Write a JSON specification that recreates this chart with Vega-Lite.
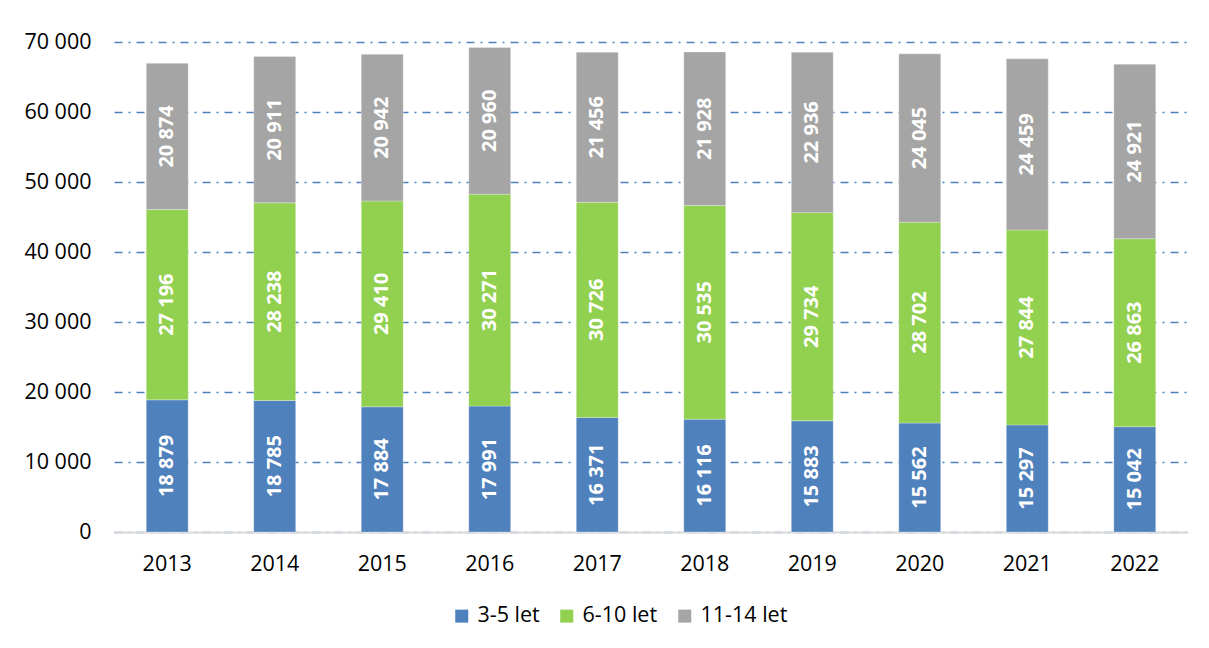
{
  "$schema": "https://vega.github.io/schema/vega-lite/v6.json",
  "autosize": {"type": "none"},
  "width": 1074,
  "height": 490,
  "padding": {"left": 114, "top": 42, "right": 21, "bottom": 116},
  "background": "white",
  "config": {
    "locale": {"number": {"decimal": ",", "thousands": " ", "grouping": [3], "currency": ["", " Kč"]}},
    "font": "Open Sans",
    "view": {"stroke": null}
  },
  "data": {
    "values": [
      {"rok": "2013", "skupina": "3-5 let", "poradi": 1, "pocet": 18879},
      {"rok": "2013", "skupina": "6-10 let", "poradi": 2, "pocet": 27196},
      {"rok": "2013", "skupina": "11-14 let", "poradi": 3, "pocet": 20874},
      {"rok": "2014", "skupina": "3-5 let", "poradi": 1, "pocet": 18785},
      {"rok": "2014", "skupina": "6-10 let", "poradi": 2, "pocet": 28238},
      {"rok": "2014", "skupina": "11-14 let", "poradi": 3, "pocet": 20911},
      {"rok": "2015", "skupina": "3-5 let", "poradi": 1, "pocet": 17884},
      {"rok": "2015", "skupina": "6-10 let", "poradi": 2, "pocet": 29410},
      {"rok": "2015", "skupina": "11-14 let", "poradi": 3, "pocet": 20942},
      {"rok": "2016", "skupina": "3-5 let", "poradi": 1, "pocet": 17991},
      {"rok": "2016", "skupina": "6-10 let", "poradi": 2, "pocet": 30271},
      {"rok": "2016", "skupina": "11-14 let", "poradi": 3, "pocet": 20960},
      {"rok": "2017", "skupina": "3-5 let", "poradi": 1, "pocet": 16371},
      {"rok": "2017", "skupina": "6-10 let", "poradi": 2, "pocet": 30726},
      {"rok": "2017", "skupina": "11-14 let", "poradi": 3, "pocet": 21456},
      {"rok": "2018", "skupina": "3-5 let", "poradi": 1, "pocet": 16116},
      {"rok": "2018", "skupina": "6-10 let", "poradi": 2, "pocet": 30535},
      {"rok": "2018", "skupina": "11-14 let", "poradi": 3, "pocet": 21928},
      {"rok": "2019", "skupina": "3-5 let", "poradi": 1, "pocet": 15883},
      {"rok": "2019", "skupina": "6-10 let", "poradi": 2, "pocet": 29734},
      {"rok": "2019", "skupina": "11-14 let", "poradi": 3, "pocet": 22936},
      {"rok": "2020", "skupina": "3-5 let", "poradi": 1, "pocet": 15562},
      {"rok": "2020", "skupina": "6-10 let", "poradi": 2, "pocet": 28702},
      {"rok": "2020", "skupina": "11-14 let", "poradi": 3, "pocet": 24045},
      {"rok": "2021", "skupina": "3-5 let", "poradi": 1, "pocet": 15297},
      {"rok": "2021", "skupina": "6-10 let", "poradi": 2, "pocet": 27844},
      {"rok": "2021", "skupina": "11-14 let", "poradi": 3, "pocet": 24459},
      {"rok": "2022", "skupina": "3-5 let", "poradi": 1, "pocet": 15042},
      {"rok": "2022", "skupina": "6-10 let", "poradi": 2, "pocet": 26863},
      {"rok": "2022", "skupina": "11-14 let", "poradi": 3, "pocet": 24921}
    ]
  },
  "transform": [
    {"stack": "pocet", "groupby": ["rok"], "sort": [{"field": "poradi", "order": "ascending"}], "as": ["y0", "y1"]},
    {"calculate": "(datum.y0 + datum.y1) / 2", "as": "ymid"}
  ],
  "encoding": {
    "x": {
      "field": "rok",
      "type": "ordinal",
      "title": null,
      "scale": {"paddingInner": 0.61, "paddingOuter": 0.3},
      "axis": {
        "labelAngle": 0,
        "labelFontSize": 21.5,
        "labelColor": "#000000",
        "labelPadding": 21,
        "ticks": false,
        "domainColor": "#d9d9d9",
        "domainWidth": 2,
        "grid": false
      }
    }
  },
  "layer": [
    {
      "mark": {"type": "bar", "stroke": "#ffffff", "strokeWidth": 0.8, "strokeOpacity": 0.35},
      "encoding": {
        "y": {
          "field": "y0",
          "type": "quantitative",
          "title": null,
          "scale": {"domain": [0, 70000], "nice": false},
          "axis": {
            "values": [0, 10000, 20000, 30000, 40000, 50000, 60000, 70000],
            "format": ",d",
            "labelFontSize": 21.5,
            "labelColor": "#000000",
            "labelPadding": 23,
            "ticks": false,
            "domain": false,
            "grid": true,
            "gridColor": "#4f81bd",
            "gridWidth": 1.5,
            "gridDash": [8, 6, 2, 6]
          }
        },
        "y2": {"field": "y1"},
        "color": {
          "field": "skupina",
          "type": "nominal",
          "sort": ["3-5 let", "6-10 let", "11-14 let"],
          "scale": {"domain": ["3-5 let", "6-10 let", "11-14 let"], "range": ["#4f81bd", "#92d050", "#a5a5a5"]},
          "legend": {
            "title": null,
            "orient": "none",
            "direction": "horizontal",
            "legendX": 337,
            "legendY": 563,
            "symbolType": "square",
            "symbolSize": 169,
            "symbolStrokeWidth": 0,
            "symbolOpacity": 1,
            "labelFontSize": 21.5,
            "labelColor": "#000000",
            "labelOffset": 5,
            "columnPadding": 16
          }
        }
      }
    },
    {
      "mark": {"type": "text", "angle": 270, "color": "#ffffff", "fontWeight": "bold", "fontSize": 20, "align": "center", "baseline": "middle"},
      "encoding": {
        "y": {"field": "ymid", "type": "quantitative"},
        "text": {"field": "pocet", "type": "quantitative", "format": ",d"}
      }
    }
  ]
}
